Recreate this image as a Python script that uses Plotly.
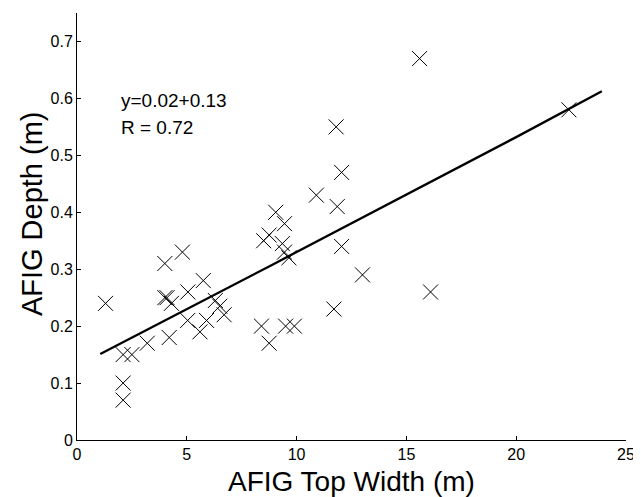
import plotly.graph_objects as go

top_width = [1.3, 2.1, 2.5, 2.1, 2.1, 3.2, 4.0, 4.8, 4.0, 4.1, 4.3, 4.2,
             5.05, 5.04, 5.75, 5.6, 5.9, 6.3, 6.5, 6.7,
             8.5, 8.75, 9.05, 9.45, 9.35, 9.45, 9.65, 8.4, 8.75, 9.5, 9.9,
             11.7, 12.05, 11.85, 11.8, 12.05, 10.9, 15.6, 22.4, 13.0, 16.1]
depth = [0.24, 0.15, 0.15, 0.10, 0.07, 0.17, 0.31, 0.33, 0.25, 0.25, 0.24, 0.18,
         0.26, 0.21, 0.28, 0.19, 0.21, 0.245, 0.235, 0.22,
         0.35, 0.36, 0.40, 0.38, 0.345, 0.33, 0.32, 0.20, 0.17, 0.20, 0.20,
         0.23, 0.34, 0.41, 0.55, 0.47, 0.43, 0.67, 0.58, 0.29, 0.26]

fit_x = [1.06, 8.9, 20.0, 23.9]
fit_y = [0.151, 0.308, 0.532, 0.6125]

x_ticks = [0, 5, 10, 15, 20, 25]
y_ticks = [0, 0.1, 0.2, 0.3, 0.4, 0.5, 0.6, 0.7]
y_ticktext = ["0", "0.1", "0.2", "0.3", "0.4", "0.5", "0.6", "0.7"]

font = "Arial, Liberation Sans, sans-serif"

fig = go.Figure()
fig.add_trace(go.Scatter(
    x=top_width, y=depth, mode="markers",
    marker=dict(symbol="x-thin", size=15, line=dict(color="black", width=1)),
    showlegend=False))
fig.add_trace(go.Scatter(
    x=fit_x, y=fit_y, mode="lines",
    line=dict(color="black", width=2.3), showlegend=False))

fig.add_annotation(x=0.076, y=0.796, xref="paper", yref="paper",
                   text="y=0.02+0.13", showarrow=False,
                   xanchor="left", yanchor="middle",
                   font=dict(family=font, size=19, color="black"))
fig.add_annotation(x=0.076, y=0.733, xref="paper", yref="paper",
                   text="R = 0.72", showarrow=False,
                   xanchor="left", yanchor="middle",
                   font=dict(family=font, size=19, color="black"))

# axis titles
fig.add_annotation(x=0.5, y=-0.098, xref="paper", yref="paper",
                   text="AFIG Top Width (m)", showarrow=False,
                   xanchor="center", yanchor="middle",
                   font=dict(family=font, size=28, color="black"))
fig.add_annotation(x=-0.083, y=0.53, xref="paper", yref="paper",
                   text="AFIG Depth (m)", showarrow=False, textangle=-90,
                   xanchor="center", yanchor="middle",
                   font=dict(family=font, size=29, color="black"))

fig.update_layout(
    width=633, height=489,
    margin=dict(l=69, r=15, t=5, b=57),
    plot_bgcolor="white", paper_bgcolor="white",
    font=dict(family=font, color="black"),
)
fig.update_xaxes(
    range=[0, 25], tickvals=x_ticks, ticktext=[str(v) for v in x_ticks],
    showgrid=False, zeroline=False, showline=True, linecolor="black", linewidth=1,
    ticks="inside", ticklen=4, tickcolor="black",
    tickfont=dict(family=font, size=16, color="black"),
)
fig.update_yaxes(
    range=[0, 0.75], tickvals=y_ticks, ticktext=y_ticktext,
    showgrid=False, zeroline=False, showline=True, linecolor="black", linewidth=1,
    ticks="inside", ticklen=4, tickcolor="black",
    tickfont=dict(family=font, size=16, color="black"),
)

fig.write_html("out.html")
